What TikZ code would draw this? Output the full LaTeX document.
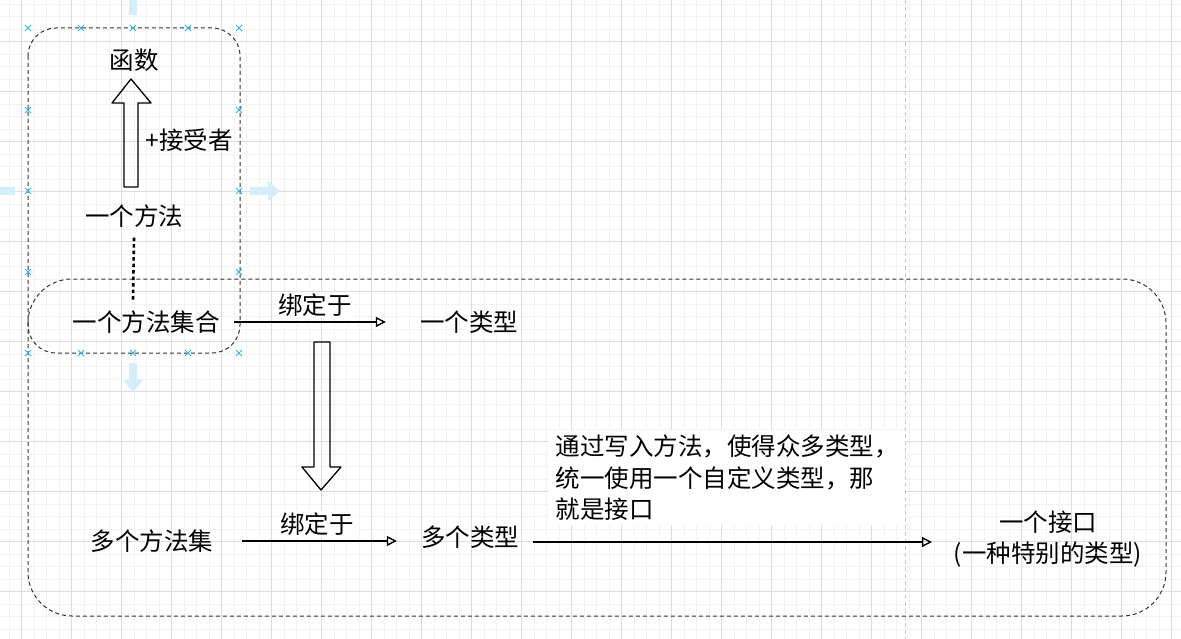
\documentclass[tikz,border=0pt]{standalone}
\usepackage{fontspec}
\setmainfont{Noto Sans CJK SC}
\usetikzlibrary{arrows.meta,positioning,calc}
\definecolor{gridminor}{HTML}{F2F2F2}
\definecolor{gridmajor}{HTML}{DCDCDC}
\definecolor{pageline}{HTML}{C8C8C8}
\definecolor{selblue}{HTML}{29B6F2}
\definecolor{selpale}{HTML}{D4EEFB}
\definecolor{boxgray}{HTML}{333333}
\tikzset{
  lbl/.style={font=\fontsize{24.5}{31.5}\selectfont,inner sep=2pt},
  grouprect/.style={draw=boxgray,line width=1pt,dash pattern=on 4pt off 3pt},
  hollow/.style={draw=black,line width=1.3pt,line join=round},
  arr/.style={draw=black,line width=1.4pt,-{Triangle[open,length=10pt,width=10pt]}},
  selmark/.style={draw=selblue,line width=1pt},
  selarrow/.style={fill=selpale,draw=none}
}
\begin{document}
\begin{tikzpicture}[x=1pt,y=-1pt]
  \useasboundingbox (0,0) rectangle (1181,639);
  \fill[white] (0,0) rectangle (1181,639);
  % grid
  \foreach \x in {9.2,21.7,...,1181} \draw[gridminor,line width=0.8pt] (\x,0) -- (\x,639);
  \foreach \y in {4.2,16.7,...,639} \draw[gridminor,line width=0.8pt] (0,\y) -- (1181,\y);
  \foreach \x in {21.7,71.7,...,1181} \draw[gridmajor,line width=0.8pt] (\x,0) -- (\x,639);
  \foreach \y in {41.7,91.7,...,639} \draw[gridmajor,line width=0.8pt] (0,\y) -- (1181,\y);
  \draw[pageline,line width=1pt,dash pattern=on 4pt off 3pt] (905,0) -- (905,639);

  % group frames
  \draw[grouprect,rounded corners=28pt] (28,28) rectangle (240,353);
  \draw[grouprect,rounded corners=44pt] (28,279) rectangle (1166,616);

  % selection handles
  \foreach \x/\y in {28/28,81/28,133/28,188/28,239/28,28/353,81/353,133/353,188/353,239/353,
                     28/110,28/191,28/272,239/110,239/191,239/272}
    \draw[selmark] (\x-3,\y-3) -- (\x+3,\y+3) (\x-3,\y+3) -- (\x+3,\y-3);
  \fill[selarrow] (129,0) rectangle (137,15);
  \fill[selarrow] (0,187) rectangle (15,195);
  \fill[selarrow] (250,187) -- (268,187) -- (268,181) -- (280,191) -- (268,201) -- (268,195) -- (250,195) -- cycle;
  \fill[selarrow] (129,363) -- (137,363) -- (137,380) -- (143,380) -- (133,392) -- (123,380) -- (129,380) -- cycle;

  % nodes
  \node[lbl] (func) at (134,60) {函数};
  \node[lbl] (recv) at (189,140) {+接受者};
  \node[lbl] (onemethod) at (134,216) {一个方法};
  \node[lbl] (methodset) at (146,322) {一个方法集合};
  \node[lbl] (onetype) at (469,322) {一个类型};
  \node[lbl] (methodsets) at (152,541) {多个方法集};
  \node[lbl] (manytypes) at (470,537) {多个类型};
  \node[lbl,fill=white,align=left,anchor=north west,inner sep=4pt,minimum width=356pt,minimum height=95pt]
    (note) at (549,430) {通过写入方法，使得众多类型，\\统一使用一个自定义类型，那\\就是接口};
  \node[lbl,align=center] (iface) at (1048,539) {一个接口\\(一种特别的类型)};

  % hollow arrows
  \draw[hollow] (124,187) -- (124,103) -- (112,103) -- (131,79) -- (151,103) -- (138,103) -- (138,187) -- cycle;
  \draw[hollow] (314,342) -- (330,342) -- (330,467) -- (341,467) -- (321,490) -- (302,467) -- (314,467) -- cycle;

  % connectors
  \draw[line width=2.6pt,dash pattern=on 3.5pt off 3pt] (onemethod.south) ++(0,8) -- ($(methodset.north)+(-13,-8)$);
  \draw[arr,shorten <=12pt,shorten >=32pt] (methodset.east) -- (onetype.west)
    node[lbl,midway,above=3pt,fill=white,xshift=-5pt] (bind1) {绑定于};
  \draw[arr,shorten <=27pt,shorten >=22pt] (methodsets.east) -- (methodsets.east -| manytypes.west)
    node[lbl,midway,above=3pt,fill=white] (bind2) {绑定于};
  \draw[arr,shorten <=12pt] (manytypes.east) ++(0,5) -- (932,542);
\end{tikzpicture}
\end{document}
